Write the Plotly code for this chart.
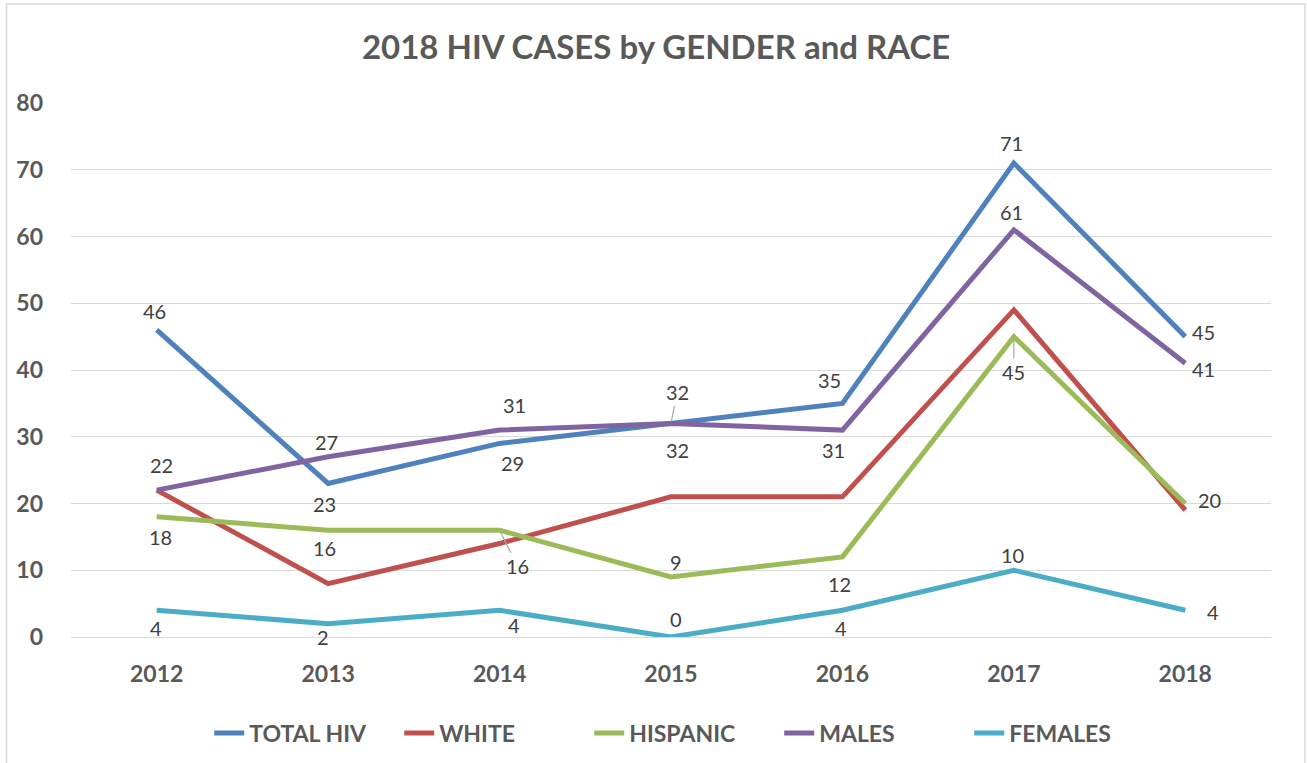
import plotly.graph_objects as go

years = ["2012", "2013", "2014", "2015", "2016", "2017", "2018"]
total_hiv = [46, 23, 29, 32, 35, 71, 45]
white = [22, 8, 14, 21, 21, 49, 19]
hispanic = [18, 16, 16, 9, 12, 45, 20]
males = [22, 27, 31, 32, 31, 61, 41]
females = [4, 2, 4, 0, 4, 10, 4]

series = [
    ("TOTAL HIV", total_hiv, "#4F81BD"),
    ("WHITE", white, "#C0504D"),
    ("HISPANIC", hispanic, "#9BBB59"),
    ("MALES", males, "#8064A2"),
    ("FEMALES", females, "#4BACC6"),
]

# label pixel offsets (dx, dy) relative to each point; None = no label
label_offsets = {
    "TOTAL HIV": [(-2, -19), (-4, 21), (13, 20), (6, -31), (-13, -23), (-2, -20), (18, -5)],
    "WHITE": [None] * 7,
    "HISPANIC": [(4, 20), (-4, 18), (18, 36), (5, -15), (-3, 27), (0, 35), (24, -4)],
    "MALES": [(5, -25), (-2, -15), (15, -25), (6, 27), (-9, 20), (-2, -18), (18, 6)],
    "FEMALES": [(-1, 18), (-5, 13), (14, 15), (5, -18), (-1, 18), (-1, -15), (28, 2)],
}
leaders = {("TOTAL HIV", 3), ("HISPANIC", 2), ("HISPANIC", 5)}

FONT = "Lato"
fig = go.Figure()
for name, vals, color in series:
    fig.add_trace(go.Scatter(
        x=years, y=vals, name=name, mode="lines",
        line=dict(color=color, width=5),
        hoverinfo="x+y+name",
    ))

annotations = []
for name, vals, color in series:
    for i, v in enumerate(vals):
        off = label_offsets[name][i]
        if off is None:
            continue
        dx, dy = off
        if (name, i) in leaders:
            annotations.append(dict(
                x=i, y=v, xref="x", yref="y", text=str(v),
                showarrow=True, arrowhead=0, arrowwidth=1.2, arrowcolor="#A6A6A6",
                ax=dx, ay=dy, standoff=2,
                font=dict(family=FONT, size=20, color="#404040"),
            ))
        else:
            annotations.append(dict(
                x=i, y=v, xref="x", yref="y", text=str(v),
                showarrow=False, xshift=dx, yshift=-dy,
                font=dict(family=FONT, size=20, color="#404040"),
            ))

fig.update_layout(
    width=1307, height=763,
    paper_bgcolor="white", plot_bgcolor="white",
    margin=dict(l=71, r=36, t=103, b=126, autoexpand=False),
    title=dict(
        text="<b>2018 HIV CASES by GENDER and RACE</b>",
        x=0.502, xref="container", xanchor="center", y=0.938, yanchor="middle",
        font=dict(family=FONT, size=33, color="#595959"),
    ),
    xaxis=dict(
        type="category", range=[-0.5, 6.5], autorange=False, automargin=False,
        showgrid=False, showline=False, zeroline=False,
        ticks="", tickfont=dict(family=FONT, size=23, color="#595959", weight="bold"),
        ticklabelstandoff=21,
    ),
    yaxis=dict(
        range=[0, 80], autorange=False, dtick=10, automargin=False,
        showgrid=True, gridcolor="#D9D9D9", gridwidth=1.3,
        zeroline=True, zerolinecolor="#D9D9D9", zerolinewidth=1.3, showline=False,
        ticks="", tickfont=dict(family=FONT, size=23, color="#595959", weight="bold"),
        ticklabelstandoff=27,
    ),
    legend=dict(
        orientation="h", x=0.511, xanchor="center", y=-0.18, yanchor="middle",
        font=dict(family=FONT, size=23, color="#595959", weight="bold"),
        itemwidth=30, tracegroupgap=0,
        entrywidth=145, entrywidthmode="pixels",
    ),
    showlegend=True,
    annotations=annotations,
    shapes=[dict(type="rect", xref="paper", yref="paper",
                 x0=-0.0537, x1=1.0283, y0=-0.26, y1=1.1854,
                 line=dict(color="#D9D9D9", width=1.5), layer="below")],
)

fig.write_html("out.html", config={"displayModeBar": False},
               post_script="document.body.style.margin='0';")
